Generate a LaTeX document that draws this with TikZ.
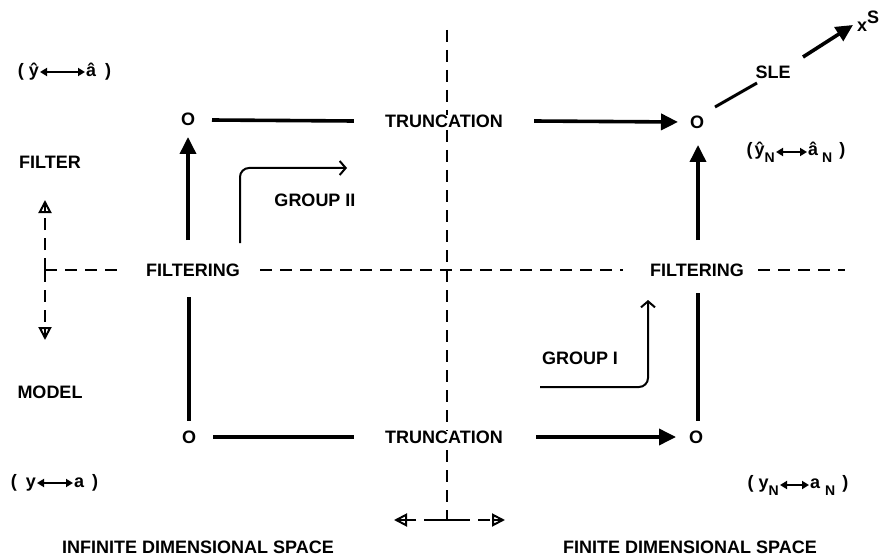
\documentclass[tikz,border=0pt]{standalone}
\usepackage{fontspec}
\setmainfont{Liberation Sans}
\usetikzlibrary{arrows.meta,calc}
\newcommand{\subN}{\raisebox{-7pt}{\fontsize{14}{14}\selectfont N}}
\begin{document}
\begin{tikzpicture}[x=1pt,y=-1pt,
  lbl/.style={font=\fontsize{18}{21}\selectfont\bfseries, inner sep=0pt},
  thickarrow/.style={line width=3.6pt, -{Triangle[length=17pt,width=16pt]}},
  thickline/.style={line width=3.6pt},
  grp/.style={line width=2pt, rounded corners=9pt, -{Straight Barb[length=6pt,width=14pt,line width=2pt]}},
  dsh/.style={line width=2.2pt, dash pattern=on 12pt off 8pt},
  dbl/.style={line width=2pt, shorten <=1pt, shorten >=1pt, {Triangle[length=7pt,width=8pt]}-{Triangle[length=7pt,width=8pt]}},
  opentip/.style={-{Triangle[open,length=13pt,width=13pt,line width=2pt]}}]
\useasboundingbox (0,0) rectangle (881,559);
% main nodes
\node[lbl] (TL) at (188,119) {O};
\node[lbl] (TR) at (697,122) {O};
\node[lbl] (BL) at (189,437) {O};
\node[lbl] (BR) at (696,437) {O};
% centre dashed divider
\coordinate (ctop) at (447,30);
\coordinate (cbot) at (447,520);
\coordinate (cl) at (394,520);
\coordinate (cr) at (505,520);
\draw[dsh] (ctop) -- (cbot);
\draw[line width=2.2pt] ($(cbot)+(-11,0)$) -- ($(cbot)+(11,0)$);
\draw[dsh,opentip] ($(cbot)+(-11,0)$) -- (cl);
\draw[dsh,opentip] ($(cbot)+(11,0)$) -- (cr);
\draw[line width=2pt] ($(cl)+(13,0)$) -- ($(cl)+(2,0)$);
\draw[line width=2pt] ($(cr)+(-13,0)$) -- ($(cr)+(-2,0)$);
% texts
\node[lbl,fill=white,inner xsep=1pt] (truncT) at (444,121) {TRUNCATION};
\node[lbl,fill=white,inner xsep=1pt] (truncB) at (444,437) {TRUNCATION};
\node[lbl] (filtL) at (193,270) {FILTERING};
\node[lbl] (filtR) at (697,270) {FILTERING};
\node[lbl] (filter) at (50,162) {FILTER};
\node[lbl] (model) at (50,392) {MODEL};
\node[lbl] (sle) at (773,72) {SLE};
\node[lbl,anchor=west] (xs) at (857,21) {x\raisebox{8pt}{S}};
\node[lbl] (g2) at (315,200) {GROUP II};
\node[lbl] (g1) at (580,358) {GROUP I};
\node[lbl] (inf) at (198,547) {INFINITE DIMENSIONAL SPACE};
\node[lbl] (fin) at (690,547) {FINITE DIMENSIONAL SPACE};
% state labels
\node[lbl,anchor=east] (h1a) at (39,72) {(\hspace{5pt}ŷ};
\node[lbl,anchor=west] (h1b) at (86,72) {â\hspace{9pt})};
\draw[dbl] (h1a.east|-h1b.west) -- (h1b.west);
\node[lbl,anchor=east] (h2a) at (775,152) {(\hspace{2pt}ŷ\subN};
\node[lbl,anchor=west] (h2b) at (808,152) {â\hspace{4pt}\subN\hspace{7pt})};
\draw[dbl] (h2a.east|-h2b.west) -- (h2b.west);
\node[lbl,anchor=east] (l1a) at (36,483) {(\hspace{9pt}y};
\node[lbl,anchor=west] (l1b) at (74,483) {a\hspace{8pt})};
\draw[dbl] (l1a.east|-l1b.west) -- (l1b.west);
\node[lbl,anchor=east] (l2a) at (779,485) {(\hspace{5pt}y\subN};
\node[lbl,anchor=west] (l2b) at (810,485) {a\hspace{5pt}\subN\hspace{7pt})};
\draw[dbl] (l2a.east|-l2b.west) -- (l2b.west);
% truncation connectors
\draw[thickline] ($(TL)+(24,1)$) -- ($(truncT.west)+(-30,0)$);
\draw[thickarrow] ($(truncT.east)+(30,0)$) -- ($(TR)+(-19,0)$);
\draw[thickline] ($(BL)+(24,0)$) -- ($(truncB.west)+(-30,0)$);
\draw[thickarrow] ($(truncB.east)+(32,0)$) -- ($(BR)+(-20,0)$);
% filtering connectors
\draw[thickarrow] ($(TL|-filtL)+(0,-30)$) -- ($(TL)+(0,18)$);
\draw[thickline] ($(BL|-filtL)+(0,27)$) -- ($(BL)+(0,-16)$);
\draw[thickarrow] ($(TR|-filtR)+(1,-30)$) -- ($(TR)+(1,23)$);
\draw[thickline] ($(BR|-filtR)+(2,23)$) -- ($(BR)+(2,-16)$);
% SLE
\draw[line width=3pt] ($(TR)+(18,-15)$) -- ($(sle)+(-16,11)$);
\draw[thickarrow] ($(sle)+(30,-15)$) -- ($(xs.west)+(-4,4)$);
% horizontal dashed
\coordinate (corner) at (45,270);
\coordinate (hend) at (845,270);
\draw[dsh] (corner) -- ($(filtL.west)+(-25,0)$);
\draw[dsh] ($(filtL.east)+(20,0)$) -- ($(filtR.west)+(-27,0)$);
\draw[dsh] ($(filtR.east)+(14,0)$) -- (hend);
% filter/model dashed
\coordinate (ftop) at (45,200);
\coordinate (fbot) at (45,340);
\draw[dsh,opentip] (corner) -- (ftop);
\draw[dsh,opentip] (corner) -- (fbot);
\draw[line width=2pt] ($(ftop)+(0,13)$) -- ($(ftop)+(0,2)$);
\draw[line width=2pt] ($(fbot)+(0,-13)$) -- ($(fbot)+(0,-2)$);
% group arrows
\draw[grp] ($(g2)+(-75,43)$) |- ($(g2)+(32,-32)$);
\draw[grp] ($(g1)+(-40,29)$) -| ($(g1)+(68,-58)$);
\end{tikzpicture}
\end{document}
